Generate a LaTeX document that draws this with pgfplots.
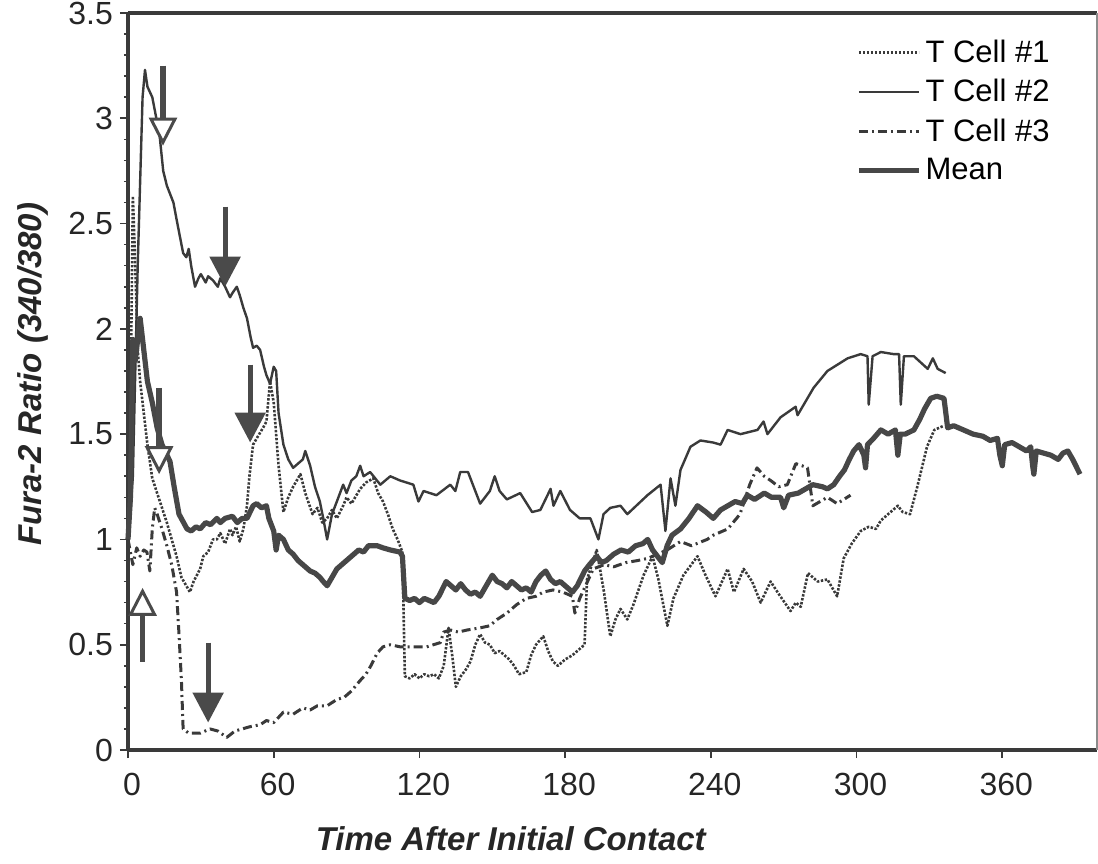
\documentclass[border=0pt]{standalone}
\usepackage{fontspec}
\setmainfont{Liberation Sans}
\usepackage{pgfplots}
\pgfplotsset{compat=1.18}
\usetikzlibrary{arrows.meta}
\definecolor{ink}{HTML}{3A3A3A}
\definecolor{arrowc}{HTML}{4A4A4A}

\begin{document}
\begin{tikzpicture}
\useasboundingbox (0,0) rectangle (549pt,431.5pt);
\begin{axis}[
 at={(64pt,56.5pt)}, anchor=south west,
 scale only axis, width=484.5pt, height=368.5pt,
 xmin=0, xmax=399, ymin=0, ymax=3.5,
 xtick={0,60,...,360}, ytick={0,0.5,...,3.5},
 minor y tick num=4,
 tick align=outside,
 major tick length=4pt, minor tick length=2pt,
 tick style={ink, line width=0.8pt},
 axis x line*=bottom, axis y line*=left,
 axis line style={-, line width=2pt, ink},
 clip=false,
 /pgf/number format/assume math mode=true,
 tick label style={font=\fontsize{16}{19}\selectfont, text=black!85},
 xticklabel style={yshift=-4pt, xshift=2pt},
 xlabel={Time After Initial Contact},
 ylabel={Fura-2 Ratio (340/380)},
 label style={font=\fontsize{16.5}{20}\selectfont\bfseries\itshape, text=black!85},
 xlabel style={at={(axis description cs:0.395,-0.12)}, anchor=center},
 ylabel style={at={(axis description cs:-0.098,0.51)}, anchor=center},
 legend style={draw=none, fill=none, at={(axis description cs:0.745,0.975)}, anchor=north west,
   font=\fontsize{15.5}{18}\selectfont, row sep=3pt, legend cell align=left},
 legend image code/.code={\draw[#1] (0pt,0pt) -- (30pt,0pt);},
]

% T Cell #1 (dotted)
\addplot[ink, line width=1.3pt, dash pattern=on 1.2pt off 0.8pt, line join=round] table {
0 1.0
1 1.6
2 2.63
3 2.3
4 1.9
5 1.75
6 1.65
8 1.45
10 1.29
12 1.22
14 1.15
16 1.08
18 1.0
20 0.92
22 0.82
24 0.78
25.5 0.75
27 0.80
29.7 0.86
31 0.92
33 0.94
35 1.0
36.6 1.0
38 1.03
40 0.98
42 1.05
43 1.02
44.5 1.06
46 0.99
47.5 1.05
49 1.16
50 1.30
51.5 1.45
53 1.48
55.6 1.53
57 1.56
58.5 1.75
60 1.65
62 1.35
64 1.13
66 1.2
68 1.25
71 1.31
73 1.22
76 1.12
78 1.15
80 1.08
82 1.10
84 1.14
86 1.10
88.6 1.16
90 1.20
92 1.17
95.6 1.24
98 1.27
101 1.29
103 1.22
105 1.18
107 1.12
109 1.05
111 1.00
113 0.94
114 0.35
116 0.34
118 0.36
120 0.34
122 0.36
124 0.35
126 0.36
128 0.34
130 0.40
132 0.58
133.5 0.45
135 0.30
137 0.35
139 0.38
141 0.42
143 0.50
145 0.55
147 0.51
149 0.50
151 0.46
153 0.47
155 0.45
157 0.43
159 0.40
161 0.36
164 0.37
166 0.45
168 0.50
171 0.54
173 0.47
175 0.42
177 0.40
180 0.43
183 0.45
186 0.48
188 0.50
189 0.81
191 0.88
193 0.95
196 0.75
198.6 0.54
200.7 0.62
202.8 0.67
205.6 0.62
208.1 0.69
212.3 0.83
216 0.92
218.4 0.81
222.1 0.59
224.6 0.72
228.7 0.83
234.5 0.92
237.8 0.83
241.9 0.73
246.9 0.86
249.5 0.75
253.5 0.86
257 0.80
260.5 0.70
264.6 0.80
268 0.74
272.8 0.66
275 0.70
277 0.68
280 0.84
284 0.80
288 0.81
292 0.73
294.7 0.91
298 0.98
301.7 1.04
305 1.06
308 1.05
310 1.09
313 1.12
317 1.16
319 1.13
322 1.12
325 1.25
329 1.44
332 1.52
336 1.54
};
\addlegendentry{T Cell \#1}

% T Cell #2 (thin solid)
\addplot[ink, line width=1.2pt, line join=round] table {
0 0.95
2 1.3
4 2.3
6 3.1
7 3.23
8 3.15
10 3.10
12 2.98
13 2.92
14.5 2.75
16 2.68
18.7 2.60
20 2.52
22.7 2.36
24 2.34
25 2.38
26 2.30
27.6 2.20
29 2.24
30 2.26
32 2.22
33 2.25
35 2.23
37 2.20
38 2.24
40 2.20
42 2.15
43 2.17
44.8 2.20
46 2.16
47.5 2.10
49 2.05
50.5 1.96
51.5 1.91
53 1.92
54.4 1.90
56 1.82
57 1.78
58.5 1.74
60 1.82
61 1.80
62 1.60
64 1.45
66 1.38
68 1.34
70 1.36
72 1.38
73 1.42
75 1.35
77 1.25
79 1.18
80.4 1.10
82 1.00
84 1.12
86 1.18
88.6 1.26
90 1.22
92 1.28
94 1.30
95.6 1.35
97 1.30
99.7 1.32
103.9 1.26
108 1.30
112 1.28
117.5 1.26
119.6 1.18
121.7 1.23
127 1.21
132.7 1.26
134.8 1.23
136.8 1.32
140 1.32
145 1.17
149 1.23
151 1.30
153 1.23
156 1.19
161.5 1.22
166.4 1.13
169.8 1.14
174 1.24
175.2 1.16
178 1.23
182 1.14
186 1.10
190.4 1.10
193.7 1.00
195.8 1.12
198.6 1.15
202.8 1.16
205.6 1.12
213.9 1.21
219.3 1.26
221.3 1.04
223.4 1.29
225.4 1.16
227.5 1.33
231.6 1.44
235.7 1.47
241 1.46
244 1.45
246.9 1.52
252.2 1.50
259.2 1.52
261.7 1.56
263.3 1.50
268.7 1.58
274.9 1.63
275.7 1.59
282.3 1.72
288 1.80
296.3 1.86
301.7 1.88
304.5 1.87
305 1.64
306.6 1.87
310 1.89
315.3 1.88
317.5 1.88
318.2 1.64
319.5 1.87
323.6 1.87
329.3 1.81
331.4 1.86
333.4 1.81
336.7 1.79
};
\addlegendentry{T Cell \#2}

% T Cell #3 (dash-dot)
\addplot[ink, line width=1.5pt, dash pattern=on 4.5pt off 2pt on 1pt off 2pt, line join=round] table {
0 1.0
2 0.88
3.6 0.96
5 0.92
6.5 0.95
7.8 0.94
9 0.85
10 1.05
11 1.15
12 1.12
14 1.05
16 0.97
18 0.88
20 0.75
21 0.55
22 0.33
22.7 0.10
25 0.08
29.7 0.08
33.8 0.10
37 0.09
40.7 0.06
44 0.09
47 0.10
50 0.11
54.4 0.12
57 0.14
60 0.13
64 0.18
68 0.17
72 0.20
75 0.19
78 0.21
82 0.21
86 0.24
89 0.25
92 0.28
95.6 0.33
98 0.36
100 0.40
102.6 0.46
105 0.49
108 0.50
112 0.49
117.5 0.49
123 0.49
128.6 0.51
130 0.56
132.7 0.57
136 0.56
139.7 0.57
145 0.58
149 0.59
152 0.62
156 0.65
160 0.69
164 0.72
168 0.73
171 0.75
175 0.76
179 0.75
183 0.73
184 0.65
186 0.72
191.6 0.86
196 0.88
200 0.87
205 0.89
210 0.90
214 0.91
218 0.93
222 0.95
227.5 0.99
232 0.97
238.5 1.0
241 1.02
247 1.05
252 1.12
256 1.26
259 1.34
262 1.30
264.6 1.28
268 1.25
271.5 1.26
275 1.36
277.5 1.35
279.8 1.34
282 1.16
285 1.18
288 1.20
292 1.17
297.5 1.21
};
\addlegendentry{T Cell \#3}

% Mean (thick)
\addplot[black!72, line width=2.6pt, line join=round] table {
0 1.0
1 1.2
2 1.95
3 1.85
4 1.95
5 2.05
6 1.95
7 1.85
8 1.75
10 1.65
12 1.53
14 1.45
17.3 1.37
19 1.25
21 1.12
24.3 1.05
26 1.04
28 1.06
29.7 1.05
32 1.08
34 1.07
36.6 1.10
38 1.08
40 1.10
43 1.11
45 1.08
47 1.10
49 1.10
51.5 1.16
53 1.17
55 1.15
57 1.16
58 1.10
60 1.04
61 0.95
62 1.02
64 1.0
66 0.95
68 0.93
70 0.90
72 0.88
75 0.85
77 0.84
79 0.82
80.4 0.80
82 0.78
84 0.82
86 0.86
88 0.88
90 0.90
92 0.92
95 0.95
97 0.94
99 0.97
102.6 0.97
105 0.96
108 0.95
112 0.94
113 0.92
114 0.72
116 0.71
118 0.72
120 0.70
122 0.72
124 0.71
126 0.70
128 0.73
131 0.80
133 0.78
135 0.76
137 0.79
139 0.76
141 0.74
143 0.75
145 0.73
147 0.77
150 0.83
152 0.80
154 0.79
156 0.77
158 0.80
160 0.78
162 0.76
164 0.77
166 0.75
168 0.80
170 0.83
172 0.85
174 0.81
176 0.79
178 0.80
180 0.78
183 0.75
185 0.78
188 0.85
190 0.88
193 0.92
195 0.89
197 0.90
200 0.93
203 0.95
206 0.94
209 0.97
212 0.98
214 1.0
216 0.95
218 0.92
220 0.89
222 0.97
224 1.02
227.5 1.05
231 1.10
234.5 1.16
238 1.13
241 1.10
244 1.14
247 1.16
250 1.18
253 1.17
255 1.21
258 1.19
262 1.22
265 1.20
268.7 1.20
270 1.15
272 1.21
276 1.22
279 1.24
282 1.26
286 1.25
288 1.24
290.6 1.26
293 1.30
295 1.33
297 1.38
298.8 1.42
301 1.45
303 1.40
303.7 1.34
304.5 1.45
307 1.48
310 1.52
313 1.50
316 1.52
317 1.40
318 1.50
320 1.50
323.6 1.52
326 1.57
328 1.62
330.5 1.67
333 1.68
336 1.67
337.5 1.53
340 1.54
344 1.52
348 1.50
352 1.49
355 1.47
358 1.48
359 1.40
360 1.35
361 1.45
364 1.46
367 1.44
370 1.42
371.7 1.44
372.5 1.35
373 1.31
374 1.42
377 1.41
380 1.40
383 1.38
385 1.41
387 1.42
389 1.38
392 1.31
};
\addlegendentry{Mean}

% arrows
\draw[arrowc, line width=2.6pt, -{Triangle[width=15pt,length=15pt]}] (axis cs:40,2.58) -- (axis cs:40,2.20);
\draw[arrowc, line width=2.6pt, -{Triangle[width=15pt,length=15pt]}] (axis cs:50.3,1.83) -- (axis cs:50.3,1.46);
\draw[arrowc, line width=2.6pt, -{Triangle[width=15pt,length=15pt]}] (axis cs:33,0.51) -- (axis cs:33,0.13);
\draw[arrowc, line width=2.6pt, -{Triangle[open,fill=white,width=14pt,length=14pt,line width=1.5pt]}] (axis cs:14.4,3.25) -- (axis cs:14.4,2.87);
\draw[arrowc, line width=2.6pt, -{Triangle[open,fill=white,width=14pt,length=14pt,line width=1.5pt]}] (axis cs:12.8,1.72) -- (axis cs:12.8,1.31);
\draw[arrowc, line width=2.6pt, -{Triangle[open,fill=white,width=14pt,length=14pt,line width=1.5pt]}] (axis cs:6,0.42) -- (axis cs:6,0.77);

% top and right frame
\draw[ink, line width=2pt] (rel axis cs:0,1) -- (rel axis cs:1,1);
\draw[black!45, line width=0.7pt] (rel axis cs:1,0) -- (rel axis cs:1,1);
\end{axis}
\end{tikzpicture}
\end{document}
